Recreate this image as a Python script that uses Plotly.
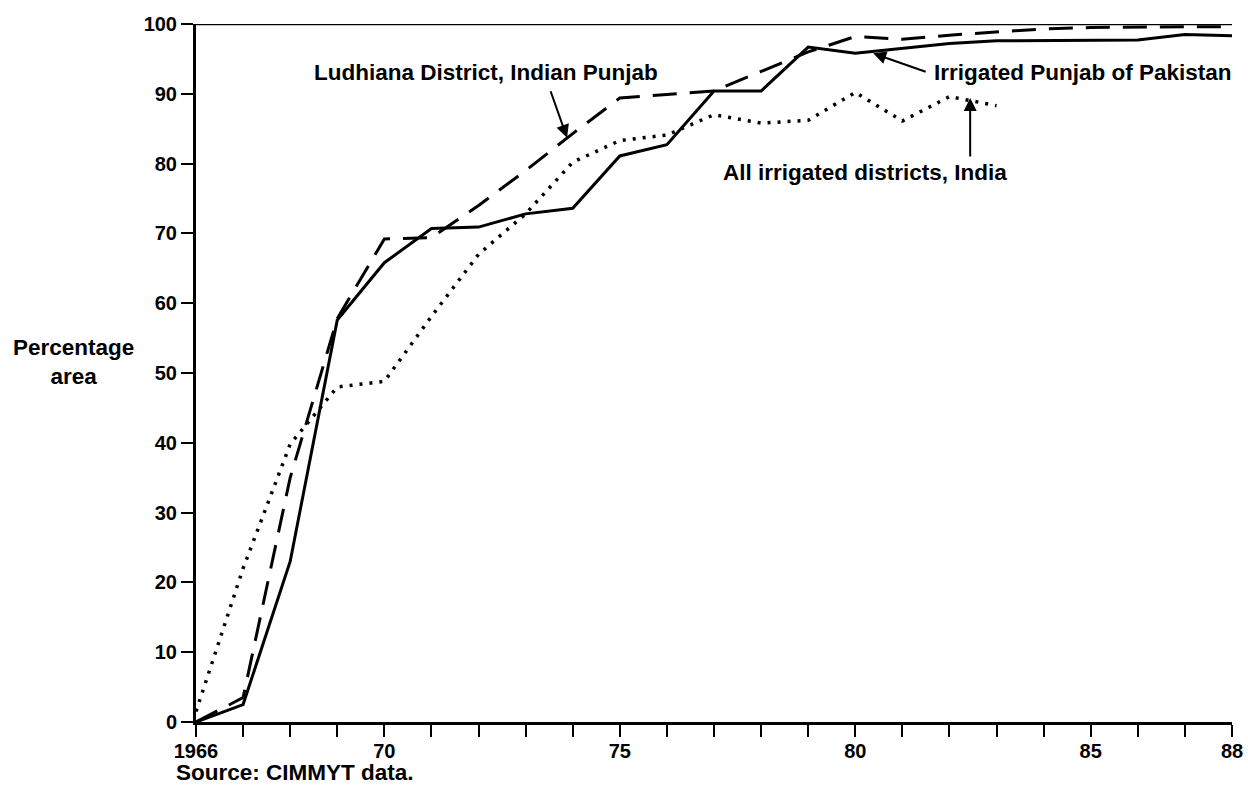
import plotly.graph_objects as go

years_pak = list(range(1966, 1989))
pakistan = [0, 2.5, 23, 57.6, 65.8, 70.7, 70.9, 72.8, 73.6, 81.1, 82.7, 90.4, 90.4,
            96.7, 95.8, 96.5, 97.2, 97.6, 97.6, 97.6, 97.7, 98.5, 98.3]

years_lud = list(range(1966, 1989))
ludhiana = [0, 3.5, 35, 57.8, 69.2, 69.4, 74.0, 79.0, 84.3, 89.4, 89.9, 90.4, 93.2,
            96.0, 98.2, 97.8, 98.4, 98.9, 99.3, 99.5, 99.6, 99.6, 99.6]

years_ind = list(range(1966, 1984))
india = [1.5, 22, 39.8, 48, 48.8, 58.1, 67, 72.8, 80.2, 83.3, 84.1, 87, 85.8,
         86.2, 90.2, 86.1, 89.6, 88.3]

tick_years = list(range(1966, 1989))
tick_labels = ["1966" if y == 1966 else (str(y - 1900) if y in (1970, 1975, 1980, 1985, 1988) else "")
               for y in tick_years]
y_ticks = list(range(0, 101, 10))

FONT = "Liberation Sans, Arial, Helvetica, sans-serif"

fig = go.Figure()
fig.add_trace(go.Scatter(x=years_pak, y=pakistan, mode="lines",
                         line=dict(color="black", width=3, dash="solid"),
                         name="Irrigated Punjab of Pakistan"))
fig.add_trace(go.Scatter(x=years_lud, y=ludhiana, mode="lines",
                         line=dict(color="black", width=3, dash="24px,13px"),
                         name="Ludhiana District, Indian Punjab"))
fig.add_trace(go.Scatter(x=years_ind, y=india, mode="lines",
                         line=dict(color="black", width=3.5, dash="3px,7px"),
                         name="All irrigated districts, India"))

fig.add_shape(type="line", xref="paper", x0=0, x1=1, yref="y", y0=100, y1=100,
              line=dict(color="black", width=2.5))

tfont = dict(family=FONT, size=22.5, color="black", weight="bold")

fig.add_annotation(x=1972.16, y=93.0, text="Ludhiana District, Indian Punjab",
                   showarrow=False, font=tfont, xanchor="center", yanchor="middle")
fig.add_annotation(x=1973.88, y=83.7, ax=-17, ay=-48, text="", showarrow=True,
                   arrowhead=2, arrowsize=1.3, arrowwidth=2, arrowcolor="black")

fig.add_annotation(x=1981.63, y=93.0, text="Irrigated Punjab of Pakistan",
                   showarrow=False, font=tfont, xanchor="left", yanchor="middle")
fig.add_annotation(x=1980.38, y=95.8, ax=54, ay=19, text="", showarrow=True,
                   arrowhead=2, arrowsize=1.3, arrowwidth=2, arrowcolor="black")

fig.add_annotation(x=1980.2, y=78.7, text="All irrigated districts, India",
                   showarrow=False, font=tfont, xanchor="center", yanchor="middle")
fig.add_annotation(x=1982.44, y=89.4, ax=0, ay=60, text="", showarrow=True,
                   arrowhead=2, arrowsize=1.3, arrowwidth=2, arrowcolor="black")

fig.add_annotation(xref="paper", yref="paper", x=-0.118, y=0.516,
                   text="Percentage<br>area", showarrow=False, font=tfont,
                   xanchor="center", yanchor="middle", align="center")
fig.add_annotation(xref="paper", yref="paper", x=-0.021, y=-0.0726,
                   text="Source: CIMMYT data.", showarrow=False, font=tfont,
                   xanchor="left", yanchor="middle")

tickfont = dict(family=FONT, size=20, color="black", weight="bold")

fig.update_layout(
    width=1248, height=803, autosize=False,
    margin=dict(l=196, r=16, t=24, b=81),
    paper_bgcolor="white", plot_bgcolor="white",
    showlegend=False,
    font=dict(family=FONT, size=20, color="black"),
    xaxis=dict(range=[1966, 1988], tickmode="array", tickvals=tick_years, ticktext=tick_labels,
               ticks="outside", ticklen=12, tickwidth=2, tickcolor="black", automargin=False,
               showline=True, linewidth=3, linecolor="black", showgrid=False, zeroline=False,
               tickfont=tickfont, ticklabelstandoff=-3),
    yaxis=dict(range=[0, 100], tickmode="array", tickvals=y_ticks, automargin=False,
               ticks="outside", ticklen=12, tickwidth=2, tickcolor="black",
               showline=True, linewidth=3, linecolor="black", showgrid=False, zeroline=False,
               tickfont=tickfont),
)

fig.write_html("out.html",
               config={"responsive": False, "displayModeBar": False},
               post_script="document.body.style.margin='0';document.body.style.overflow='hidden';")
